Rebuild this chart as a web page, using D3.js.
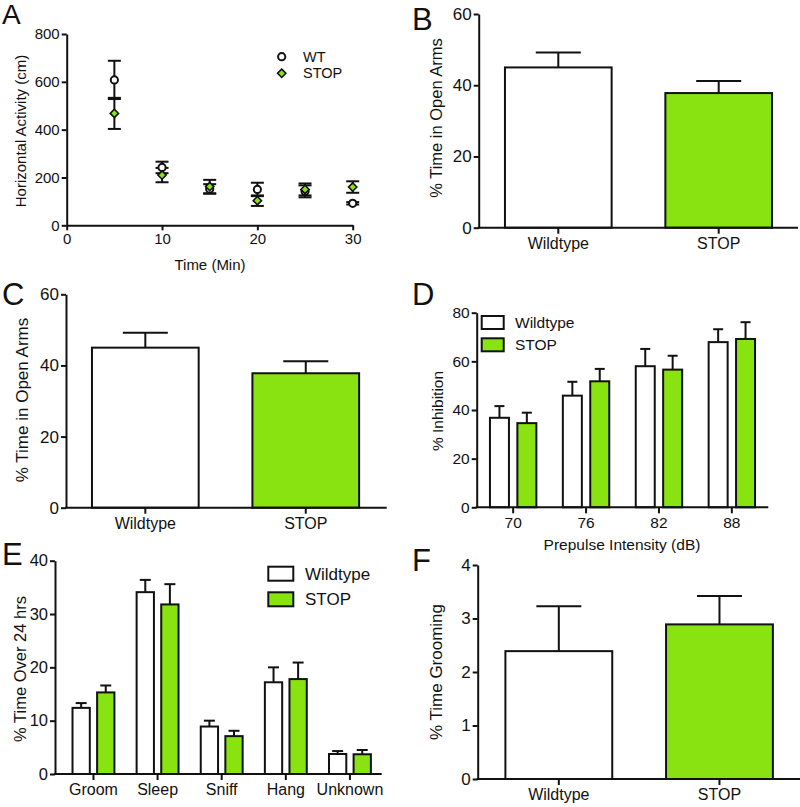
<!DOCTYPE html>
<html><head><meta charset="utf-8">
<script src="https://cdn.jsdelivr.net/npm/d3@7"></script>
<style>
body{margin:0;background:#fff}
svg{display:block}
text{font-family:"Liberation Sans",Arial,Helvetica,sans-serif;fill:#111}
</style>
</head><body><svg id="c" width="800" height="807"></svg>
<script>
// ---------- DATA ----------
// Panel A: open field horizontal activity
const timeTicks = [0, 10, 20, 30];
const timePoints = [5, 10, 15, 20, 25, 30];
const wtActivity = [608, 242, 152, 150, 142, 92];
const wtActivityErr = [80, 24, 20, 28, 25, 5];
const stopActivity = [468, 210, 162, 103, 150, 160];
const stopActivityErr = [65, 30, 28, 22, 25, 24];
const activityTicks = [0, 200, 400, 600, 800];
const activityLegend = ["WT", "STOP"];

// Panels B and C: % time in open arms
const genotypes = ["Wildtype", "STOP"];
const openArmMean = [45.0, 37.8];
const openArmErr = [4.2, 3.4];
const openArmTicks = [0, 20, 40, 60];

// Panel D: prepulse inhibition
const prepulse = ["70", "76", "82", "88"];
const ppiWT = [36.8, 45.9, 58.0, 67.9];
const ppiWTErr = [4.8, 5.7, 7.1, 5.3];
const ppiSTOP = [34.6, 51.8, 56.6, 69.2];
const ppiSTOPErr = [4.3, 5.1, 5.7, 6.9];
const ppiTicks = [0, 20, 40, 60, 80];

// Panel E: home-cage behaviour over 24 hrs
const behaviors = ["Groom", "Sleep", "Sniff", "Hang", "Unknown"];
const behWT = [12.4, 34.1, 8.9, 17.2, 3.75];
const behWTErr = [0.9, 2.3, 1.1, 2.8, 0.55];
const behSTOP = [15.3, 31.8, 7.1, 17.8, 3.7];
const behSTOPErr = [1.3, 3.8, 1.0, 3.1, 0.8];
const behTicks = [0, 10, 20, 30, 40];

// Panel F: % time grooming
const groomMean = [2.39, 2.89];
const groomErr = [0.84, 0.53];
const groomTicks = [0, 1, 2, 3, 4];

// ---------- STYLE ----------
const GREEN = "#88e311";
const FILLS = ["#ffffff", GREEN];
const svg = d3.select("#c");

function styleAxis(g, fs) {
  g.attr("font-family", null);
  g.selectAll("path.domain").attr("stroke", "#111").attr("stroke-width", 2);
  g.selectAll(".tick line").attr("stroke", "#111").attr("stroke-width", 2);
  g.selectAll(".tick text").attr("font-size", fs).attr("fill", "#111");
}

function yAxis(y, x0, ticks, fs, fmt) {
  const g = svg.append("g").attr("transform", `translate(${x0},0)`)
    .call(d3.axisLeft(y).tickValues(ticks).tickSize(5).tickSizeOuter(0).tickPadding(2).tickFormat(fmt || d3.format("d")));
  styleAxis(g, fs);
  return g;
}

function xLine(x0, x1, y0) {
  svg.append("line").attr("x1", x0 - 1).attr("x2", x1).attr("y1", y0).attr("y2", y0)
    .attr("stroke", "#111").attr("stroke-width", 2);
}

function yTitle(txt, cx, cy, fs) {
  svg.append("text").attr("transform", `translate(${cx},${cy}) rotate(-90)`)
    .attr("text-anchor", "middle").attr("dy", "0.35em").attr("font-size", fs).text(txt);
}
function xTitle(txt, cx, cy, fs) {
  svg.append("text").attr("x", cx).attr("y", cy).attr("text-anchor", "middle")
    .attr("dy", "0.35em").attr("font-size", fs).text(txt);
}
function letter(txt, x, y, fs) {
  svg.append("text").attr("x", x).attr("y", y).attr("font-size", fs || 31).text(txt);
}

function errBar(g, cx, yTop, yMean, capW) {
  g.append("line").attr("x1", cx).attr("x2", cx).attr("y1", yMean).attr("y2", yTop)
    .attr("stroke", "#111").attr("stroke-width", 2);
  g.append("line").attr("x1", cx - capW / 2).attr("x2", cx + capW / 2).attr("y1", yTop).attr("y2", yTop)
    .attr("stroke", "#111").attr("stroke-width", 2);
}

// Two-bar genotype panel (B, C, F)
function genotypePanel(opt) {
  const y = d3.scaleLinear().domain([0, opt.ticks[opt.ticks.length - 1]]).range([opt.bottom, opt.top]);
  const x = d3.scaleBand().domain(genotypes).range(opt.band).padding(0);
  const bw = x.step() * 0.665;
  const g = svg.append("g");
  genotypes.forEach((k, i) => {
    const cx = x(k) + x.bandwidth() / 2;
    errBar(g, cx, y(opt.mean[i] + opt.err[i]), y(opt.mean[i]), 45);
    g.append("rect").attr("x", cx - bw / 2).attr("y", y(opt.mean[i]))
      .attr("width", bw).attr("height", y(0) - y(opt.mean[i]))
      .attr("fill", FILLS[i]).attr("stroke", "#111").attr("stroke-width", 2);
  });
  const xa = svg.append("g").attr("transform", `translate(0,${opt.bottom})`)
    .call(d3.axisBottom(x).tickSize(6).tickSizeOuter(0).tickPadding(4));
  xa.select("path.domain").remove();
  styleAxis(xa, opt.xfs);
  xLine(opt.left, opt.right, opt.bottom);
  yAxis(y, opt.left, opt.ticks, opt.yfs, opt.fmt);
  yTitle(opt.title, opt.tx, opt.ty, opt.tfs);
}

// ---------- PANEL A ----------
(function () {
  const left = 66.7, right = 352.7, top = 34, bottom = 225.3;
  const x = d3.scaleLinear().domain([0, 30]).range([left, right]);
  const y = d3.scaleLinear().domain([0, 800]).range([bottom, top]);
  const g = svg.append("g");
  const series = [
    { m: wtActivity, e: wtActivityErr },
    { m: stopActivity, e: stopActivityErr }
  ];
  series.forEach(s => {
    timePoints.forEach((t, i) => {
      const cx = x(t);
      g.append("line").attr("x1", cx).attr("x2", cx).attr("y1", y(s.m[i] - s.e[i])).attr("y2", y(s.m[i] + s.e[i]))
        .attr("stroke", "#111").attr("stroke-width", 2);
      [s.m[i] - s.e[i], s.m[i] + s.e[i]].forEach(v => {
        g.append("line").attr("x1", cx - 6.5).attr("x2", cx + 6.5).attr("y1", y(v)).attr("y2", y(v))
          .attr("stroke", "#111").attr("stroke-width", 2);
      });
    });
  });
  const diamond = d3.symbol().type(d3.symbolDiamond2).size(44);
  timePoints.forEach((t, i) => {
    g.append("circle").attr("cx", x(t)).attr("cy", y(wtActivity[i])).attr("r", 3.6)
      .attr("fill", "#fff").attr("stroke", "#111").attr("stroke-width", 2);
  });
  timePoints.forEach((t, i) => {
    g.append("path").attr("d", diamond).attr("transform", `translate(${x(t)},${y(stopActivity[i])})`)
      .attr("fill", GREEN).attr("stroke", "#111").attr("stroke-width", 1.6);
  });
  const xa = svg.append("g").attr("transform", `translate(0,${bottom})`)
    .call(d3.axisBottom(x).tickValues(timeTicks).tickSize(5).tickSizeOuter(0).tickPadding(3).tickFormat(d3.format("d")));
  styleAxis(xa, 15);
  yAxis(y, left, activityTicks, 15);
  yTitle("Horizontal Activity (cm)", 21, 131, 15);
  xTitle("Time (Min)", 210, 265, 15);
  // legend
  const lg = svg.append("g");
  lg.append("circle").attr("cx", 281.7).attr("cy", 56.7).attr("r", 3.6)
    .attr("fill", "#fff").attr("stroke", "#111").attr("stroke-width", 2);
  lg.append("path").attr("d", diamond).attr("transform", "translate(281.7,73.3)")
    .attr("fill", GREEN).attr("stroke", "#111").attr("stroke-width", 1.6);
  activityLegend.forEach((t, i) => {
    lg.append("text").attr("x", 303).attr("y", 56.7 + i * 16.6).attr("dy", "0.35em").attr("font-size", 14.5).text(t);
  });
  letter("A", 2, 24, 28);
})();

// ---------- PANEL B ----------
genotypePanel({ left: 478.7, right: 798, top: 14, bottom: 227.7, band: [478.1, 798.9],
  mean: openArmMean, err: openArmErr, ticks: openArmTicks, title: "% Time in Open Arms",
  tx: 436, ty: 118, tfs: 16.5, xfs: 16, yfs: 17 });
letter("B", 412, 30);

// ---------- PANEL C ----------
genotypePanel({ left: 66, right: 386.7, top: 294.3, bottom: 507.7, band: [65.1, 386],
  mean: openArmMean, err: openArmErr, ticks: openArmTicks, title: "% Time in Open Arms",
  tx: 22, ty: 400, tfs: 17, xfs: 16, yfs: 17 });
letter("C", 2, 305);

// ---------- grouped bar helper ----------
function groupedPanel(opt) {
  const y = d3.scaleLinear().domain([0, opt.ticks[opt.ticks.length - 1]]).range([opt.bottom, opt.top]);
  const x = d3.scaleBand().domain(opt.cats).range(opt.band).padding(0);
  const bw = opt.bw, off = opt.off;
  const g = svg.append("g");
  const series = [{ m: opt.wt, e: opt.wtErr, f: FILLS[0], o: -off }, { m: opt.st, e: opt.stErr, f: FILLS[1], o: off }];
  series.forEach(s => {
    opt.cats.forEach((c, i) => {
      const cx = x(c) + x.bandwidth() / 2 + s.o;
      errBar(g, cx, y(s.m[i] + s.e[i]), y(s.m[i]), opt.cap);
      g.append("rect").attr("x", cx - bw / 2).attr("y", y(s.m[i]))
        .attr("width", bw).attr("height", y(0) - y(s.m[i]))
        .attr("fill", s.f).attr("stroke", "#111").attr("stroke-width", 2);
    });
  });
  const xa = svg.append("g").attr("transform", `translate(0,${opt.bottom})`)
    .call(d3.axisBottom(x).tickSize(6).tickSizeOuter(0).tickPadding(4));
  xa.select("path.domain").remove();
  styleAxis(xa, opt.xfs);
  xLine(opt.left, opt.right, opt.bottom);
  yAxis(y, opt.left, opt.ticks, opt.yfs);
  yTitle(opt.title, opt.tx, opt.ty, opt.tfs);
  const lg = svg.append("g");
  genotypes.forEach((k, i) => {
    lg.append("rect").attr("x", opt.lx).attr("y", opt.ly + i * opt.lstep).attr("width", opt.lw).attr("height", opt.lh)
      .attr("fill", FILLS[i]).attr("stroke", "#111").attr("stroke-width", 2);
    lg.append("text").attr("x", opt.ltx).attr("y", opt.ly + opt.lh / 2 + i * opt.lstep).attr("dy", "0.35em")
      .attr("font-size", opt.lfs).text(k);
  });
}

// ---------- PANEL D ----------
groupedPanel({ cats: prepulse, left: 476.7, right: 768.3, top: 312.7, bottom: 507.3, band: [476.7, 768.3],
  wt: ppiWT, wtErr: ppiWTErr, st: ppiSTOP, stErr: ppiSTOPErr, ticks: ppiTicks,
  bw: 19, off: 13.7, cap: 10, title: "% Inhibition", tx: 438, ty: 411, tfs: 15.5, xfs: 15.5, yfs: 15.5,
  lx: 481.7, ly: 316, lw: 22, lh: 13, lstep: 22.3, ltx: 515, lfs: 15.5 });
xTitle("Prepulse Intensity (dB)", 622, 545, 15.5);
letter("D", 412, 305);

// ---------- PANEL E ----------
groupedPanel({ cats: behaviors, left: 55, right: 381.7, top: 560.7, bottom: 774, band: [61.4, 382],
  wt: behWT, wtErr: behWTErr, st: behSTOP, stErr: behSTOPErr, ticks: behTicks,
  bw: 17.3, off: 12.3, cap: 11, title: "% Time Over 24 hrs", tx: 20, ty: 669, tfs: 16.5, xfs: 16, yfs: 16.5,
  lx: 268.3, ly: 566.7, lw: 25, lh: 14, lstep: 25.6, ltx: 305, lfs: 17 });
letter("E", 2, 565);

// ---------- PANEL F ----------
genotypePanel({ left: 477.7, right: 800, top: 565, bottom: 779, band: [478.5, 799.8],
  mean: groomMean, err: groomErr, ticks: groomTicks, title: "% Time Grooming",
  tx: 436, ty: 672, tfs: 17, xfs: 16, yfs: 17 });
letter("F", 412, 571);
</script>
</body></html>
